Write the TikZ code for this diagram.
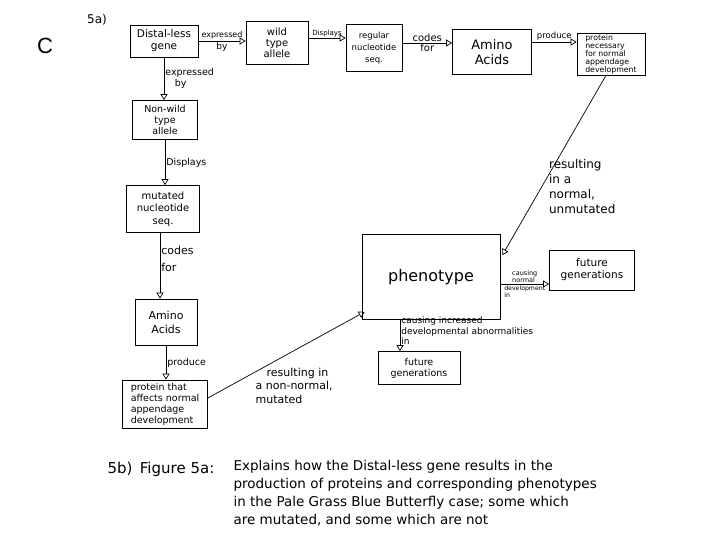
\documentclass[tikz,border=0pt]{standalone}
\usepackage{fontspec}
\setmainfont{DejaVu Sans}
\newfontfamily\arialfont{Liberation Sans}
\usetikzlibrary{arrows.meta}
\newcommand{\fsz}[2]{\fontsize{#1}{#2}\selectfont}

\begin{document}
\begin{tikzpicture}[x=1pt, y=-1pt,
    box/.style={draw, line width=0.7pt, align=center, inner sep=1pt},
    arr/.style={-{Triangle[open, length=6pt, width=7pt]}, line width=0.7pt},
    lbl/.style={inner sep=1pt, align=left}]
    \useasboundingbox (0,0) rectangle (720,540);

    % Headings
    \node[font=\arialfont\fsz{22}{24}] (letter) at (45,46) {C};
    \node[font=\fsz{12}{14}] (parta) at (97,20) {5a)};

    % Top row (normal path)
    \node[box, minimum width=68, minimum height=32, font=\fsz{10.5}{12}] (dll) at (164,41) {Distal-less\\gene};
    \node[box, minimum width=62, minimum height=43, font=\fsz{10}{11}] (wild) at (277,43) {wild\\type\\allele};
    \node[box, minimum width=56, minimum height=47, font=\fsz{8.5}{12}] (regseq) at (374,48) {regular\\nucleotide\\seq.};
    \node[box, minimum width=79, minimum height=45, font=\fsz{13}{15}] (aminoT) at (492,52) {Amino\\Acids};
    \node[box, minimum width=68, minimum height=42, font=\fsz{7.8}{8}, align=left] (protN) at (611,54) {protein\\necessary\\for normal\\appendage\\development};

    % Left column (mutated path)
    \node[box, minimum width=65, minimum height=39, font=\fsz{9.5}{11}] (nonwild) at (165,120) {Non-wild\\type\\allele};
    \node[box, minimum width=73, minimum height=47, font=\fsz{10}{12.5}] (mutseq) at (163,209) {mutated\\nucleotide\\seq.};
    \node[box, minimum width=62, minimum height=46, font=\fsz{11}{14}] (aminoL) at (166,322) {Amino\\Acids};
    \node[box, minimum width=85, minimum height=48, font=\fsz{9.5}{11}, align=left] (protA) at (165,404) {protein that\\affects normal\\appendage\\development};

    % Phenotype and offspring
    \node[box, minimum width=138, minimum height=85, font=\fsz{16}{18}] (pheno) at (431,277) {phenotype};
    \node[box, minimum width=85, minimum height=40, font=\fsz{10.5}{12}] (futR) at (592,270) {future\\generations};
    \node[box, minimum width=82, minimum height=33, font=\fsz{9.5}{11}] (futB) at (419,368) {future\\generations};

    % Arrows along the top
    \draw[arr] (dll.east) -- (wild.west |- dll.east)
        node[lbl, midway, above, font=\fsz{8}{9}] {expressed}
        node[lbl, midway, below, font=\fsz{9}{10}] {by};
    \draw[arr] ([yshift=5pt]wild.east) -- ([yshift=5pt]wild.east -| regseq.west)
        node[lbl, midway, above, font=\fsz{7}{8}] {Displays};
    \draw[arr] ([yshift=5pt]regseq.east) -- ([yshift=5pt]regseq.east -| aminoT.west)
        node[lbl, midway, above, font=\fsz{10}{11}] {codes}
        node[lbl, midway, below, font=\fsz{10}{11}] {for};
    \draw[arr] ([yshift=10pt]aminoT.east) -- ([yshift=10pt]aminoT.east -| protN.west)
        node[lbl, midway, above, font=\fsz{8.5}{10}] {produce};

    % Arrows down the left
    \draw[arr] (dll.south) -- (dll.south |- nonwild.north)
        node[lbl, midway, right, font=\fsz{9.5}{11}] {expressed\\\quad by};
    \draw[arr] (nonwild.south) -- (nonwild.south |- mutseq.north)
        node[lbl, midway, right, font=\fsz{9.5}{11}] {Displays};
    \draw[arr] ([xshift=-3pt]mutseq.south) -- ([xshift=-3pt]mutseq.south |- aminoL.north)
        node[lbl, pos=0.4, right, font=\fsz{11}{17}] {codes\\for};
    \draw[arr] (aminoL.south) -- (aminoL.south |- protA.north)
        node[lbl, midway, right, font=\fsz{9.5}{11}] {produce};

    % Results
    \draw[arr] ([yshift=6pt]protA.east) -- ([xshift=3pt, yshift=8pt]pheno.south west)
        node[lbl, pos=0.55, anchor=north, yshift=-16pt, font=\fsz{11}{13.5}] {\quad resulting in\\a non-normal,\\mutated};
    \draw[arr] ([xshift=-5pt]protN.south) -- ([xshift=2pt, yshift=-21pt]pheno.north east)
        node[lbl, pos=0.62, anchor=west, xshift=6pt, font=\fsz{12}{15}] {resulting\\in a\\normal,\\unmutated};
    \draw[arr] ([yshift=-7pt]pheno.east) -- ([yshift=-7pt]pheno.east -| futR.west)
        node[lbl, midway, above, font=\fsz{6.5}{7.5}] {causing\\normal}
        node[lbl, midway, below, font=\fsz{6.2}{7.5}] {development\\in};
    \draw[arr] ([xshift=-31pt]pheno.south) -- ([xshift=-19pt]futB.north)
        node[lbl, pos=0.35, anchor=west, font=\fsz{9}{10.5}] {causing increased\\developmental abnormalities\\in};

    % Caption
    \node[font=\fsz{15}{17}, anchor=west] (partb) at (104,469) {5b)\enspace Figure 5a:};
    \node[font=\fsz{13.5}{18}, anchor=north west, align=left] (caption) at (230,457)
        {Explains how the Distal-less gene results in the\\
         production of proteins and corresponding phenotypes\\
         in the Pale Grass Blue Butterfly case; some which\\
         are mutated, and some which are not};
\end{tikzpicture}
\end{document}
